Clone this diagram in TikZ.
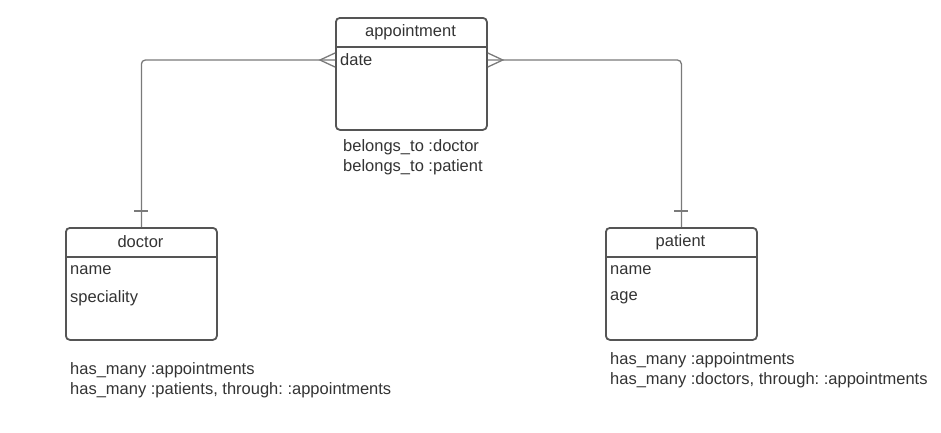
\documentclass[tikz,border=0pt]{standalone}
\usepackage{fontspec}
\setmainfont{Liberation Sans}
\usetikzlibrary{calc}
\frenchspacing
\definecolor{boxline}{HTML}{555555}
\definecolor{conn}{HTML}{7A7A7A}
\definecolor{txt}{HTML}{333333}
\begin{document}
\begin{tikzpicture}[x=1pt,y=-1pt,
  entity/.style={draw=boxline, line width=1.8pt, rounded corners=4pt, minimum width=151pt, minimum height=112pt, inner sep=0pt, anchor=north west},
  sep/.style={draw=boxline, line width=1.8pt},
  lbl/.style={font=\fontsize{16.5}{20}\selectfont\frenchspacing, text=txt, inner sep=0pt},
  fld/.style={lbl, anchor=west},
  note/.style={lbl, anchor=north west, align=left},
  rel/.style={draw=conn, line width=1.3pt},
]
\useasboundingbox (0,0) rectangle (941,432);
% entities
\node[entity] (appt) at (335,17) {};
\node[entity] (doc) at (65,227) {};
\node[entity] (pat) at (605,227) {};
% separators
\draw[sep] (335,47) -- (486,47);
\draw[sep] (65,257) -- (216,257);
\draw[sep] (605,257) -- (756,257);
% titles
\node[lbl] (apptT) at (410.5,32) {appointment};
\node[lbl] (docT) at (140.5,242) {doctor};
\node[lbl] (patT) at (680.5,242) {patient};
% fields
\node[fld] (adate) at (340,60) {date};
\node[fld] (dname) at (70,270) {name};
\node[fld] (dspec) at (70,298) {speciality};
\node[fld] (pname) at (610,270) {name};
\node[fld] (page) at (610,298) {age};
% notes
\node[note] (apptN) at (343,139) {belongs\_to :doctor\\belongs\_to :patient};
\node[note] (docN) at (70,362) {has\_many :appointments\\has\_many :patients, through: :appointments};
\node[note] (patN) at (610,352) {has\_many :appointments\\has\_many :doctors, through: :appointments};
% connectors
\coordinate (aL) at ($(appt.west |- adate.west)$);
\coordinate (aR) at ($(appt.east |- adate.west)$);
\draw[rel, rounded corners=4pt] (aL) -- ++(-15,0) -| (doc.north);
\draw[rel, rounded corners=4pt] (aR) -- ++(15,0) -| (pat.north);
% crow's feet
\draw[rel] ($(aL)+(0,-7)$) -- ($(aL)+(-15,0)$) -- ($(aL)+(0,7)$);
\draw[rel] ($(aR)+(0,-7)$) -- ($(aR)+(15,0)$) -- ($(aR)+(0,7)$);
% one ticks
\draw[rel] ($(doc.north)+(-7,-16)$) -- ($(doc.north)+(7,-16)$);
\draw[rel] ($(pat.north)+(-7,-16)$) -- ($(pat.north)+(7,-16)$);
\end{tikzpicture}
\end{document}
